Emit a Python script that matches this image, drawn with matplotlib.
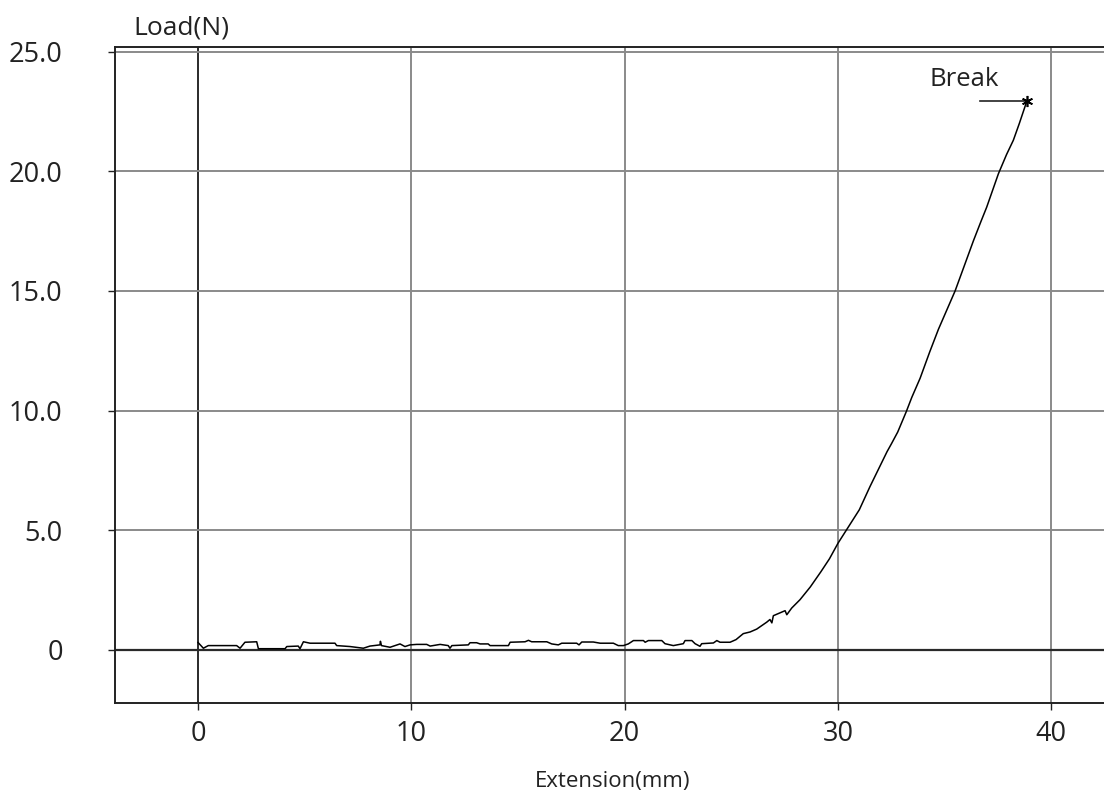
import numpy as np
import matplotlib.pyplot as plt

plt.rcParams['font.family'] = ['Open Sans', 'DejaVu Sans']

# load-extension record of the tensile test (mm, N)
extension = [
    0.0, 0.25, 0.48, 1.81, 1.97, 2.2, 2.75, 2.83, 4.08, 4.16, 4.7, 4.78, 4.94,
    5.25, 6.42, 6.5, 7.13, 7.75, 8.06, 8.53, 8.55, 8.6, 9.0, 9.47, 9.7, 9.94,
    10.25, 10.72, 10.88, 11.35, 11.73, 11.81, 11.9, 12.67, 12.75, 13.06, 13.22,
    13.6, 13.69, 14.55, 14.63, 15.33, 15.49, 15.64, 16.35, 16.58, 16.89, 17.05,
    17.75, 17.86, 17.99, 18.53, 18.85, 19.47, 19.7, 19.94, 20.17, 20.41, 20.88,
    20.96, 21.11, 21.74, 21.89, 22.28, 22.75, 22.83, 23.15, 23.3, 23.53, 23.61,
    24.16, 24.32, 24.47, 24.94, 25.22, 25.56, 25.88, 26.19, 26.66, 26.81, 26.9,
    26.97, 27.52, 27.6, 27.83, 28.22, 28.7, 29.2, 29.6, 30.0, 30.5, 31.0, 31.5,
    31.9, 32.3, 32.5, 32.8, 33.2, 33.46, 33.85, 34.3, 34.71, 35.1, 35.49, 35.9,
    36.35, 36.7, 36.97, 37.52, 37.9, 38.22, 38.5, 38.85,
]
load = [
    0.3, 0.06, 0.17, 0.17, 0.06, 0.31, 0.33, 0.04, 0.04, 0.13, 0.15, 0.04, 0.33,
    0.27, 0.27, 0.17, 0.13, 0.06, 0.15, 0.2, 0.35, 0.17, 0.1, 0.24, 0.13, 0.2,
    0.22, 0.22, 0.15, 0.22, 0.17, 0.06, 0.17, 0.2, 0.29, 0.29, 0.24,
    0.24, 0.17, 0.17, 0.31, 0.33, 0.39, 0.33, 0.33, 0.24, 0.2, 0.27,
    0.27, 0.2, 0.32, 0.32, 0.27, 0.27, 0.17, 0.17, 0.24, 0.38, 0.38,
    0.31, 0.38, 0.38, 0.25, 0.17, 0.25, 0.38, 0.38, 0.25, 0.14, 0.25,
    0.28, 0.38, 0.31, 0.31, 0.42, 0.67, 0.74, 0.86, 1.15, 1.26, 1.12,
    1.42, 1.63, 1.46, 1.74, 2.09, 2.62, 3.26, 3.8, 4.45, 5.15, 5.85, 6.82,
    7.55, 8.28, 8.6, 9.1, 9.95, 10.55, 11.35, 12.45, 13.4, 14.2, 15.0, 16.0,
    17.1, 17.9, 18.5, 19.9, 20.7, 21.3, 22.0, 22.93,
]

break_ext = 38.85
break_load = 22.93

x_ticks = [0, 10, 20, 30, 40]
y_ticks = [0, 5, 10, 15, 20, 25]
y_tick_labels = ['0', '5.0', '10.0', '15.0', '20.0', '25.0']

fig = plt.figure(figsize=(11.04, 8.06), dpi=100)
ax = fig.add_axes([0.1046, 0.1278, 0.8954, 0.8139])

ax.set_xlim(-3.87, 42.47)
ax.set_ylim(-2.23, 25.2)

grid_kw = dict(color='#8a8a8a', lw=1.4, zorder=1)
for xv in x_ticks:
    if xv == 0:
        ax.axvline(xv, color='#2a2a2a', lw=1.4, zorder=1)
    else:
        ax.axvline(xv, **grid_kw)
for yv in y_ticks:
    if yv == 0:
        ax.axhline(yv, color='#2a2a2a', lw=1.6, zorder=1)
    else:
        ax.axhline(yv, **grid_kw)

ax.plot(extension, load, color='black', lw=1.1, zorder=3)

# break marker with its leader line
ax.plot([36.66, break_ext], [break_load, break_load], color='#222222', lw=1.2, zorder=3)
ax.plot([break_ext], [break_load], marker=(6, 2, 0), ms=8, color='black',
        mew=1.2, zorder=4)
ax.text(34.27, 23.85, 'Break', fontsize=18.5, ha='left', va='center', color='#222222')

ax.set_xticks(x_ticks)
ax.set_xticklabels([str(v) for v in x_ticks])
ax.set_yticks(y_ticks)
ax.set_yticklabels(y_tick_labels)
ax.tick_params(axis='both', direction='out', length=5, width=1, color='#222222',
               labelsize=19.5, labelcolor='#222222')
ax.tick_params(axis='y', pad=33)
ax.tick_params(axis='x', pad=7)

for side in ['left', 'bottom', 'top']:
    ax.spines[side].set_color('#222222')
    ax.spines[side].set_linewidth(1.4)
ax.spines['right'].set_visible(False)

fig.text(181 / 1104, 1 - 28 / 806, 'Load(N)', fontsize=19, ha='center', va='center', color='#222222')
fig.text(613 / 1104, 1 - 781 / 806, 'Extension(mm)', fontsize=16, ha='center', va='center', color='#222222')

fig.savefig('out.png', dpi=100)
